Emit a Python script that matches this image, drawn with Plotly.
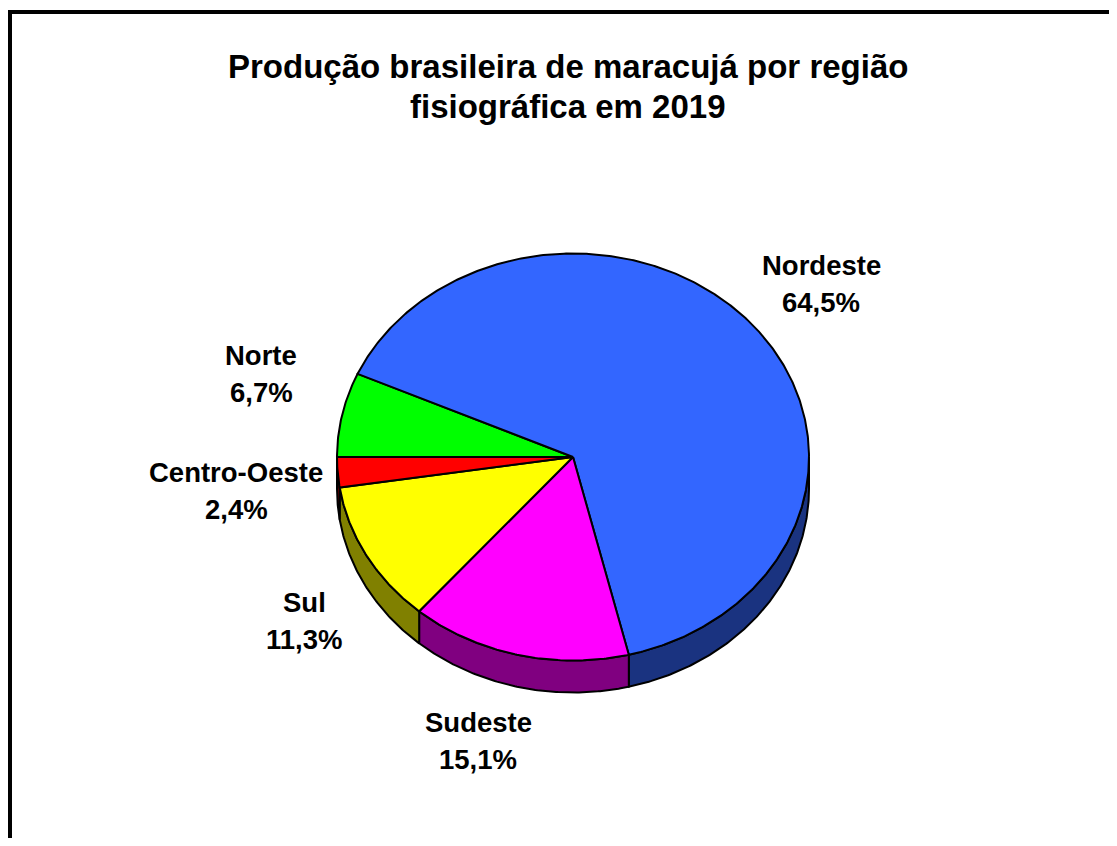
import numpy as np
import plotly.graph_objects as go

# ---- data ----
regions = ["Norte", "Nordeste", "Sudeste", "Sul", "Centro-Oeste"]
shares = [6.7, 64.5, 15.1, 11.3, 2.4]
top_colors = ["#00FF00", "#3366FF", "#FF00FF", "#FFFF00", "#FF0000"]
side_colors = ["#008000", "#1A3380", "#800080", "#808000", "#800000"]
title_lines = ["Produção brasileira de maracujá por região", "fisiográfica em 2019"]

# ---- layout constants (page pixels) ----
PAGE_W, PAGE_H = 1117, 846
OFF = 8  # default body margin of the html page
FW, FH = PAGE_W - 2 * OFF, PAGE_H - 2 * OFF
CX, CY = 573, 457
RX, RY = 236, 203.5
DEPTH = 32
START_DEG = 180.0  # first slice starts at 9 o'clock, going clockwise
label_pos = [(261, 374), (821, 284), (478, 741), (304, 621), (236, 491)]
LINE_GAP = 37


def ell(t_deg, dy=0.0):
    t = np.radians(t_deg)
    return CX + RX * np.cos(t), CY - RY * np.sin(t) + dy


fig = go.Figure()

total = sum(shares)
angles = []
a = START_DEG
for v in shares:
    span = 360.0 * v / total
    angles.append((a, a - span))
    a -= span

# side walls (front half only)
for (ts, te), col in zip(angles, side_colors):
    hi = min(ts, 0.0)
    lo = max(te, -180.0)
    if hi <= lo:
        continue
    n = max(4, int((hi - lo) * 2))
    tt = np.linspace(hi, lo, n)
    x1, y1 = ell(tt)
    x2, y2 = ell(tt[::-1], DEPTH)
    xs = np.concatenate([x1, x2, x1[:1]])
    ys = np.concatenate([y1, y2, y1[:1]])
    fig.add_trace(go.Scatter(x=xs, y=ys, mode="lines", fill="toself",
                             fillcolor=col, line=dict(color="black", width=2),
                             hoverinfo="skip", showlegend=False))

# top faces
for (ts, te), col in zip(angles, top_colors):
    n = max(4, int((ts - te) * 2))
    tt = np.linspace(ts, te, n)
    x1, y1 = ell(tt)
    xs = np.concatenate([[CX], x1, [CX]])
    ys = np.concatenate([[CY], y1, [CY]])
    fig.add_trace(go.Scatter(x=xs, y=ys, mode="lines", fill="toself",
                             fillcolor=col, line=dict(color="black", width=2),
                             hoverinfo="skip", showlegend=False))

FONT = "Liberation Sans, Arial, sans-serif"
annotations = []
for name, v, (lx, ly) in zip(regions, shares, label_pos):
    pct = f"{v:.1f}".replace(".", ",") + "%"
    for txt, yy in ((name, ly - LINE_GAP / 2), (pct, ly + LINE_GAP / 2)):
        annotations.append(dict(x=lx, y=yy, xref="x", yref="y", text=f"<b>{txt}</b>",
                                showarrow=False, xanchor="center", yanchor="middle",
                                font=dict(family=FONT, size=27.5, color="black")))

for i, line in enumerate(title_lines):
    annotations.append(dict(x=568, y=66 + 40 * i, xref="x", yref="y", text=f"<b>{line}</b>",
                            showarrow=False, xanchor="center", yanchor="middle",
                            font=dict(family=FONT, size=33, color="black")))

shapes = [
    dict(type="line", xref="x", yref="y", x0=OFF, x1=OFF + FW, y0=12, y1=12,
         line=dict(color="black", width=4)),
    dict(type="line", xref="x", yref="y", x0=10, x1=10, y0=10, y1=OFF + FH,
         line=dict(color="black", width=4)),
]

fig.update_layout(
    width=FW, height=FH,
    margin=dict(l=0, r=0, t=0, b=0),
    paper_bgcolor="white", plot_bgcolor="white",
    xaxis=dict(range=[OFF, OFF + FW], visible=False, fixedrange=True),
    yaxis=dict(range=[OFF + FH, OFF], visible=False, fixedrange=True),
    annotations=annotations, shapes=shapes,
    showlegend=False,
)

fig.write_html("out.html")
